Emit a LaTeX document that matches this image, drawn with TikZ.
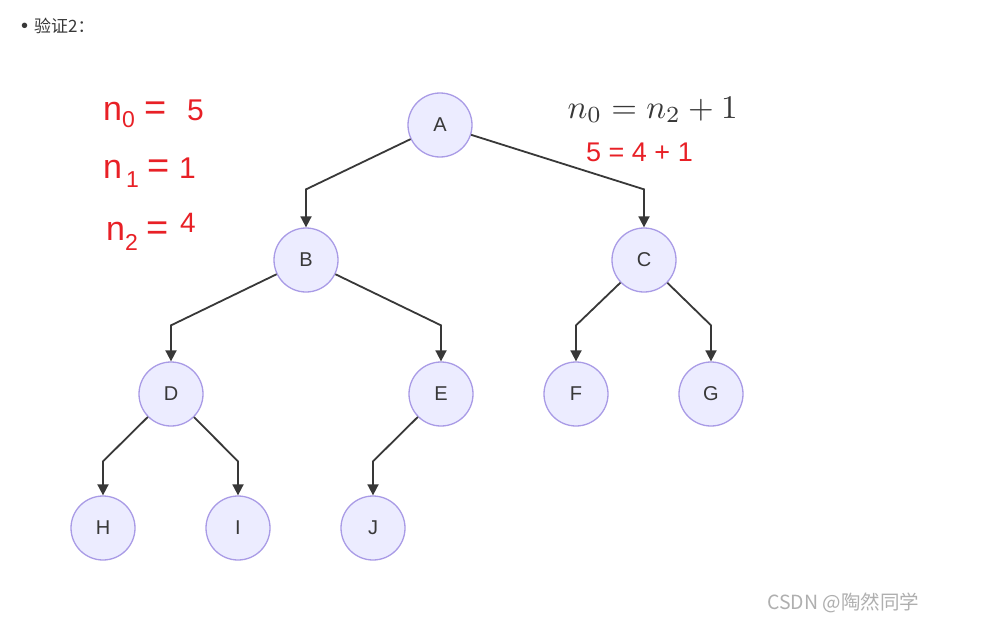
\documentclass[tikz,border=0pt]{standalone}
\usepackage[no-math]{fontspec}
\setmainfont{Liberation Sans}
\newfontfamily\cjk{Noto Sans CJK SC}
\usetikzlibrary{arrows.meta}
\definecolor{nodefill}{HTML}{ECECFF}
\definecolor{nodeline}{HTML}{A99BE6}
\definecolor{edgegray}{HTML}{383838}
\definecolor{labred}{RGB}{232,32,38}
\definecolor{markgray}{RGB}{175,175,175}

\begin{document}
\begin{tikzpicture}[x=1pt,y=-1pt,
  vertex/.style={circle,draw=nodeline,fill=nodefill,line width=1.3pt,minimum size=64pt,inner sep=0pt,text=edgegray,font=\fontsize{20}{22}\selectfont},
  link/.style={-{Triangle[length=11pt,width=11pt]},draw=edgegray,line width=1.8pt},
  redlab/.style={text=labred,anchor=base west,inner sep=0pt}]
\useasboundingbox[fill=white] (0,0) rectangle (985,626);

\node[anchor=base west,inner sep=0pt,text=edgegray] (head) at (21,33) {{\fontsize{20}{20}\selectfont •}\hspace{6pt}\cjk\fontsize{17}{18}\selectfont 验证2：};

\node[vertex] (A) at (440,125) {A};
\node[vertex] (B) at (306,260) {B};
\node[vertex] (C) at (644,260) {C};
\node[vertex] (D) at (171,394) {D};
\node[vertex] (E) at (441,394) {E};
\node[vertex] (F) at (576,394) {F};
\node[vertex] (G) at (711,394) {G};
\node[vertex] (H) at (103,528) {H};
\node[vertex] (I) at (238,528) {I};
\node[vertex] (J) at (373,528) {J};

\coordinate (AB) at ([yshift=38pt]B.north);
\coordinate (AC) at ([yshift=38pt]C.north);
\coordinate (BD) at ([yshift=36pt]D.north);
\coordinate (BE) at ([yshift=36pt]E.north);
\coordinate (CF) at ([yshift=36pt]F.north);
\coordinate (CG) at ([yshift=36pt]G.north);
\coordinate (DH) at ([yshift=34pt]H.north);
\coordinate (DI) at ([yshift=34pt]I.north);
\coordinate (EJ) at ([yshift=34pt]J.north);

\draw[link] (A) -- (AB) -- (B);
\draw[link] (A) -- (AC) -- (C);
\draw[link] (B) -- (BD) -- (D);
\draw[link] (B) -- (BE) -- (E);
\draw[link] (C) -- (CF) -- (F);
\draw[link] (C) -- (CG) -- (G);
\draw[link] (D) -- (DH) -- (H);
\draw[link] (D) -- (DI) -- (I);
\draw[link] (E) -- (EJ) -- (J);

\node[redlab] (nzero) at (103,120) {\fontsize{34}{40}\selectfont n\raisebox{-7pt}{\fontsize{23}{26}\selectfont 0}\hspace{10pt}{\fontsize{38}{40}\selectfont =}\hspace{20pt}\fontsize{30}{36}\selectfont 5};
\node[redlab] (none) at (103,178) {\fontsize{34}{40}\selectfont n\hspace{4pt}\raisebox{-9pt}{\fontsize{23}{26}\selectfont 1}\hspace{9pt}{\fontsize{38}{40}\selectfont =}\hspace{9pt}\fontsize{30}{36}\selectfont 1};
\node[redlab] (ntwo) at (106,240) {\fontsize{34}{40}\selectfont n\raisebox{-10pt}{\fontsize{23}{26}\selectfont 2}\hspace{9pt}{\fontsize{38}{40}\selectfont =}\hspace{11pt}\raisebox{8pt}{\fontsize{28}{30}\selectfont 4}};

\node[anchor=base west,inner sep=0pt,text=edgegray,scale=3.3] (law) at (567,118) {$n_0 = n_2 + 1$};
\node[redlab] (check) at (586,161) {\fontsize{27}{32}\selectfont 5 = 4 + 1};

\node[anchor=base west,inner sep=0pt,text=markgray] (mark) at (767,609) {\cjk\fontsize{19.5}{22}\selectfont CSDN @陶然同学};
\end{tikzpicture}
\end{document}
